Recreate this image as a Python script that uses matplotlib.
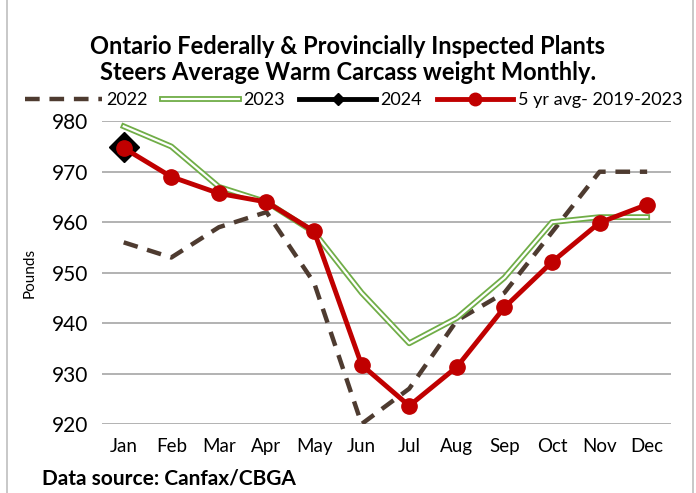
import matplotlib.pyplot as plt
import matplotlib.patheffects as pe
import matplotlib.patches as patches
from matplotlib.lines import Line2D

plt.rcParams['font.family'] = ['Lato', 'DejaVu Sans']

months = ['Jan', 'Feb', 'Mar', 'Apr', 'May', 'Jun', 'Jul', 'Aug', 'Sep', 'Oct', 'Nov', 'Dec']
y2022 = [956, 953, 959, 962, 948, 920, 927, 940.5, 946, 958, 970, 970]
y2023 = [979, 975, 967, 964, 958, 946, 936, 941, 949, 960, 961, 961]
y2024 = [975]
avg5 = [974.7, 969, 965.7, 964, 958.2, 931.7, 923.6, 931.3, 943.1, 952.1, 959.9, 963.5]

fig = plt.figure(figsize=(6.96, 4.93), dpi=100)
ax = fig.add_axes([0.147, 0.14, 0.817, 0.614])

x = list(range(len(months)))
c2022 = '#4e3b30'
c2023 = '#70ad47'
cavg = '#c00000'

double = [pe.Stroke(linewidth=4.2, foreground=c2023), pe.Normal()]

ax.plot(x, y2022, color=c2022, lw=3.2, dashes=(3.3, 2.2), zorder=2)
ax.plot(x, y2023, color='white', lw=1.6, path_effects=double, zorder=3)
ax.plot(x[:len(y2024)], y2024, color='black', lw=3.5, marker='D', markersize=15, zorder=4)
ax.plot(x, avg5, color=cavg, lw=3.5, marker='o', markersize=11, zorder=5)

ax.set_ylim(920, 980)
ax.set_xlim(-0.45, 11.5)
ax.set_yticks(range(920, 981, 10))
ax.set_xticks(x)
ax.set_xticklabels(months)
ax.tick_params(axis='both', length=0)
ax.tick_params(axis='x', labelsize=13.5, pad=10)
ax.tick_params(axis='y', labelsize=15, pad=10)
ax.grid(axis='y', color='#a6a6a6', lw=1.2)
ax.set_axisbelow(True)
for s in ax.spines.values():
    s.set_visible(False)
ax.set_ylabel('Pounds', fontsize=11, labelpad=11)

handles = [
    Line2D([], [], color=c2022, lw=3.2, dashes=(3.3, 2.2)),
    Line2D([], [], color='white', lw=1.6, path_effects=double),
    Line2D([], [], color='black', lw=3.5, marker='D', markersize=6),
    Line2D([], [], color=cavg, lw=3.5, marker='o', markersize=9),
]
labels = ['2022', '2023', '2024', '5 yr avg- 2019-2023']
fig.legend(handles, labels, loc='center', bbox_to_anchor=(0.508, 0.797), ncol=4,
           frameon=False, fontsize=13, handlelength=4.25, handletextpad=0.25,
           columnspacing=0.8)

fig.text(0.5, 0.879, 'Ontario Federally & Provincially Inspected Plants\nSteers Average Warm Carcass weight Monthly.',
         ha='center', va='center', fontsize=17, fontweight='bold', linespacing=1.15)
fig.text(0.06, 0.03, 'Data source: Canfax/CBGA', ha='left', va='center',
         fontsize=15, fontweight='bold')

fig.patches.append(patches.Rectangle((0.01, -0.01), 0.985, 1.05, transform=fig.transFigure,
                                     fill=False, edgecolor='#bfbfbf', lw=1.2))

fig.savefig('out.png', dpi=100)
